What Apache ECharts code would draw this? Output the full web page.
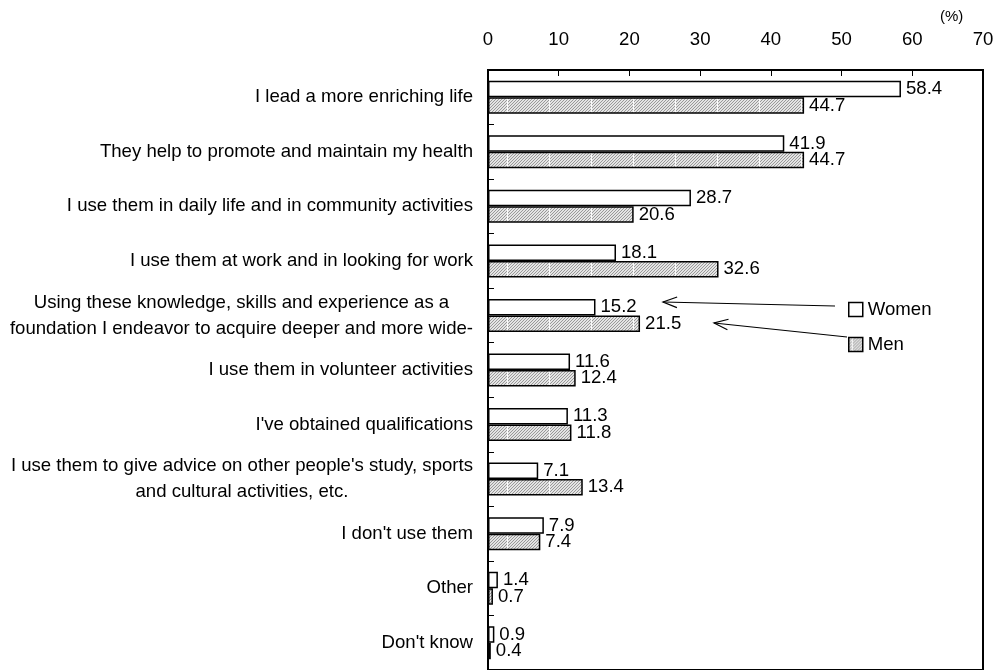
<!DOCTYPE html>
<html>
<head>
<meta charset="utf-8">
<script src="https://cdn.jsdelivr.net/npm/echarts@6/dist/echarts.min.js"></script>
<style>
  html, body { margin: 0; padding: 0; background: #fff; }
  #chart { width: 997px; height: 670px; }
</style>
</head>
<body>
<div id="chart"></div>
<script>
// Ways the acquired knowledge, skills and experience are used, by sex (%)
const categories = [
  "I lead a more enriching life",
  "They help to promote and maintain my health",
  "I use them in daily life and in community activities",
  "I use them at work and in looking for work",
  "Using these knowledge, skills and experience as a\nfoundation I endeavor to acquire deeper and more wide-",
  "I use them in volunteer activities",
  "I've obtained qualifications",
  "I use them to give advice on other people's study, sports\nand cultural activities, etc.",
  "I don't use them",
  "Other",
  "Don't know"
];
const women = [58.4, 41.9, 28.7, 18.1, 15.2, 11.6, 11.3, 7.1, 7.9, 1.4, 0.9];
const men   = [44.7, 44.7, 20.6, 32.6, 21.5, 12.4, 11.8, 13.4, 7.4, 0.7, 0.4];
const seriesNames = ["Women", "Men"];
const xTicks = { min: 0, max: 70, interval: 10 };

// Pick a condensed face when one is installed
function hasFont(name) {
  const ctx = document.createElement('canvas').getContext('2d');
  const s = 'abcdefghijklmnopqrstuvwxyz0123456789';
  ctx.font = '40px monospace';
  const a = ctx.measureText(s).width;
  ctx.font = '40px "' + name + '", monospace';
  return ctx.measureText(s).width !== a;
}
const narrow = hasFont('Liberation Sans Narrow');
const FONT = narrow ? '"Liberation Sans Narrow", "Liberation Sans", Arial, sans-serif'
                    : '"Liberation Sans", Arial, sans-serif';
const FS = narrow ? 22 : 18.6;
const FS_AXIS = narrow ? 21 : 18.6;

// Fine diagonal hatch used for the "Men" bars
function hatchPattern() {
  const w = 42, h = 3;
  const c = document.createElement('canvas');
  c.width = w; c.height = h;
  const ctx = c.getContext('2d');
  for (let x = 0; x < w; x++) {
    for (let y = 0; y < h; y++) {
      let col = ((x + y) % 3 === 0) ? '#999999' : '#e4e4e4';
      if (x === 3) col = '#fafafa';
      ctx.fillStyle = col;
      ctx.fillRect(x, y, 1, 1);
    }
  }
  return { image: c, repeat: 'repeat' };
}

const chart = echarts.init(document.getElementById('chart'), null, { renderer: 'canvas' });

const labelStyle = {
  show: true,
  position: 'right',
  distance: 5,
  color: '#000',
  fontFamily: FONT,
  fontSize: FS
};

// Arrow from a legend entry to its bar, drawn as line + open head
function arrow(x1, y1, x2, y2) {
  const ang = Math.atan2(y1 - y2, x1 - x2);
  const L = 15, spread = 0.36;
  const p1 = [x2 + L * Math.cos(ang + spread), y2 + L * Math.sin(ang + spread)];
  const p2 = [x2 + L * Math.cos(ang - spread), y2 + L * Math.sin(ang - spread)];
  return [
    { type: 'line', shape: { x1: x1, y1: y1, x2: x2, y2: y2 }, style: { stroke: '#000', lineWidth: 1.2 } },
    { type: 'polyline', shape: { points: [p1, [x2, y2], p2] }, style: { stroke: '#000', lineWidth: 1.2, fill: null } }
  ];
}

const option = {
  animation: false,
  backgroundColor: '#fff',
  grid: {
    left: 488, top: 70, width: 495, height: 601,
    show: true, borderColor: '#000', borderWidth: 2, backgroundColor: 'transparent'
  },
  legend: {
    orient: 'vertical',
    left: 848, top: 300,
    itemWidth: 14, itemHeight: 14, itemGap: 16,
    padding: 0,
    data: seriesNames,
    icon: 'rect',
    itemStyle: { borderColor: '#000', borderWidth: 1.5 },
    textStyle: { color: '#000', fontFamily: FONT, fontSize: FS }
  },
  xAxis: {
    type: 'value',
    position: 'top',
    min: xTicks.min, max: xTicks.max, interval: xTicks.interval,
    axisLine: { show: true, lineStyle: { color: '#000', width: 2 } },
    axisTick: { show: true, inside: true, length: 6, lineStyle: { color: '#000', width: 1 } },
    axisLabel: { color: '#000', fontFamily: FONT, fontSize: FS_AXIS, margin: 21 },
    splitLine: { show: false }
  },
  yAxis: {
    type: 'category',
    inverse: true,
    data: categories,
    axisLine: { show: true, lineStyle: { color: '#000', width: 2 } },
    axisTick: { show: true, inside: true, length: 6, lineStyle: { color: '#000', width: 1 } },
    axisLabel: {
      color: '#000',
      margin: 15,
      align: 'right',
      formatter: function (v) {
        return v.split('\n').map(function (l) { return '{c|' + l + '}'; }).join('\n');
      },
      rich: {
        c: { align: 'center', fontFamily: FONT, fontSize: FS, lineHeight: 26, color: '#000' }
      }
    }
  },
  series: [
    {
      name: seriesNames[0],
      type: 'bar',
      data: women,
      barWidth: 16.5,
      barGap: '0%',
      itemStyle: { color: '#fff', borderColor: '#000', borderWidth: 1.5 },
      label: labelStyle
    },
    {
      name: seriesNames[1],
      type: 'bar',
      data: men,
      barWidth: 16.5,
      barGap: '0%',
      itemStyle: { color: hatchPattern(), borderColor: '#000', borderWidth: 1.5 },
      label: labelStyle
    }
  ],
  graphic: [
    {
      type: 'text', left: 940, top: 9,
      style: { text: '(%)', fill: '#000', font: (narrow ? 17 : 15) + 'px ' + FONT }
    },
    {
      type: 'group',
      children: arrow(835, 306, 663, 302).concat(arrow(847, 337, 714, 323))
    }
  ]
};

chart.setOption(option);
</script>
</body>
</html>
